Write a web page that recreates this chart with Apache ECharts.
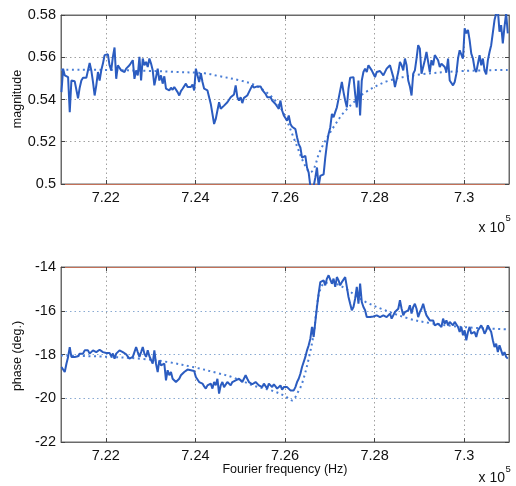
<!DOCTYPE html>
<html><head><meta charset="utf-8">
<script src="https://cdn.jsdelivr.net/npm/echarts@6/dist/echarts.min.js"></script>
<style>html,body{margin:0;padding:0;background:#fff}#c{width:516px;height:486px}</style>
</head><body><div id="c"></div>
<script>
// frequency axis in units of 1e5 Hz; samples evenly spaced
const freqStart = 7.2101;
const freqStep = 0.00037037;
const xTicks = [7.22, 7.24, 7.26, 7.28, 7.30];

const magnitude = [
0.5435,0.5546,0.5514,0.5510,0.5506,0.5340,0.5490,0.5483,0.5486,0.5483,
0.5406,0.5456,0.5490,0.5503,0.5498,0.5503,0.5506,0.5573,0.5538,0.5483,
0.5419,0.5467,0.5530,0.5490,0.5538,0.5570,0.5610,0.5617,0.5614,0.5562,
0.5538,0.5602,0.5646,0.5498,0.5562,0.5570,0.5538,0.5546,0.5530,0.5546,
0.5538,0.5562,0.5554,0.5586,0.5498,0.5538,0.5514,0.5602,0.5490,0.5594,
0.5562,0.5578,0.5554,0.5594,0.5570,0.5538,0.5467,0.5506,0.5546,0.5490,
0.5514,0.5475,0.5510,0.5451,0.5459,0.5443,0.5456,0.5446,0.5459,0.5451,
0.5435,0.5419,0.5440,0.5451,0.5456,0.5475,0.5459,0.5467,0.5459,0.5471,
0.5443,0.5546,0.5541,0.5483,0.5525,0.5483,0.5451,0.5451,0.5443,0.5411,
0.5379,0.5332,0.5284,0.5308,0.5348,0.5387,0.5356,0.5363,0.5371,0.5379,
0.5387,0.5395,0.5411,0.5403,0.5424,0.5467,0.5411,0.5395,0.5411,0.5383,
0.5408,0.5403,0.5419,0.5435,0.5427,0.5467,0.5456,
0.5459,0.5462,0.5456,0.5462,0.5446,0.5440,0.5427,0.5411,0.5419,0.5411,
0.5395,0.5398,0.5379,0.5367,0.5356,0.5395,0.5348,0.5324,0.5316,0.5300,
0.5324,0.5284,0.5271,0.5276,0.5260,0.5221,0.5189,0.5173,0.5125,0.5117,
0.5133,0.5078,0.5054,0.4990,0.4986,0.4990,0.5030,0.5078,0.4990,0.5038,
0.5046,0.5046,0.5125,0.5189,0.5237,0.5268,0.5332,0.5316,0.5340,0.5363,
0.5403,0.5443,0.5483,0.5435,0.5395,0.5363,0.5451,0.5503,0.5510,0.5506,
0.5427,0.5363,0.5490,0.5324,0.5490,0.5530,0.5546,0.5530,0.5562,0.5562,
0.5538,0.5522,0.5506,0.5530,0.5538,0.5535,0.5538,0.5514,0.5522,0.5546,
0.5554,0.5562,0.5570,0.5506,0.5459,0.5456,0.5530,0.5578,0.5562,0.5538,
0.5594,0.5562,0.5490,0.5462,0.5419,0.5522,0.5538,0.5594,0.5657,0.5641,
0.5522,0.5530,0.5586,0.5625,0.5578,0.5530,0.5586,0.5562,0.5610,0.5617,
0.5586,0.5554,0.5570,0.5578,0.5554,0.5530,0.5594,0.5490,0.5483,0.5467,
0.5483,0.5522,0.5594,0.5633,0.5641,0.5594,0.5737,0.5713,0.5729,0.5681,
0.5617,0.5594,0.5546,0.5530,0.5570,0.5610,0.5562,0.5594,0.5538,0.5519,
0.5586,0.5625,0.5657,0.5649,0.5776,0.5808,0.5824,0.5721,0.5752,0.5665,
0.5744,0.5808,0.5713
];

const phase = [
-18.57,-18.65,-18.80,-18.42,-18.11,-17.66,-18.11,-18.19,-18.11,-18.04,
-18.08,-17.96,-17.89,-17.96,-17.81,-17.89,-17.81,-17.96,-17.89,-17.81,
-17.81,-17.89,-17.81,-17.78,-17.81,-17.89,-17.96,-17.93,-17.89,-17.93,
-18.08,-17.96,-18.19,-17.96,-17.89,-17.81,-17.73,-17.89,-17.96,-17.99,
-18.04,-18.19,-18.27,-18.11,-18.19,-17.66,-17.89,-18.11,-17.89,-17.66,
-17.96,-18.11,-17.81,-18.08,-18.11,-18.42,-17.81,-18.42,-18.80,-18.27,
-18.50,-18.57,-18.42,-19.18,-18.72,-18.95,-18.80,-19.11,-19.03,-19.26,
-19.18,-19.11,-18.95,-18.88,-18.80,-18.88,-18.69,-18.75,-18.72,-18.80,
-18.75,-19.03,-19.11,-19.26,-19.18,-19.33,-19.46,-19.56,-19.41,-19.49,
-19.33,-19.56,-19.26,-19.41,-19.11,-19.79,-19.41,-19.26,-19.49,-19.46,
-19.26,-19.33,-19.41,-19.26,-19.33,-19.18,-19.26,-19.11,-19.03,-19.26,
-19.21,-18.95,-19.11,-19.26,-19.18,-19.36,-19.30,
-19.26,-19.33,-19.41,-19.33,-19.49,-19.33,-19.41,-19.56,-19.33,-19.41,
-19.49,-19.36,-19.46,-19.56,-19.49,-19.41,-19.61,-19.49,-19.56,-19.49,
-19.41,-19.64,-19.56,-19.64,-19.49,-19.26,-19.11,-18.88,-18.57,-18.50,
-18.11,-17.81,-17.58,-17.28,-16.74,-17.20,-16.51,-15.83,-15.22,-14.69,
-14.76,-14.61,-14.84,-14.53,-14.38,-14.46,-14.76,-14.53,-14.91,-14.46,
-14.61,-14.84,-14.69,-14.76,-14.46,-14.91,-15.37,-15.68,-15.98,-15.83,
-15.45,-14.91,-15.68,-14.76,-15.60,-15.83,-15.98,-16.29,-16.21,-16.29,
-16.21,-16.26,-16.29,-16.21,-16.21,-16.29,-16.21,-16.21,-16.21,-16.29,
-16.21,-16.13,-16.36,-16.29,-16.06,-16.13,-15.91,-15.52,-15.91,-16.21,
-16.06,-16.13,-15.98,-15.75,-16.13,-15.83,-15.68,-15.91,-16.29,-16.06,
-15.91,-15.68,-15.98,-16.21,-16.29,-16.44,-16.51,-16.44,-16.67,-16.74,
-16.59,-16.51,-16.74,-16.36,-16.59,-16.44,-16.67,-16.51,-16.44,-16.67,
-16.51,-16.59,-16.74,-16.97,-16.74,-17.12,-16.90,-17.35,-16.97,-16.74,
-17.05,-17.12,-16.97,-17.20,-16.90,-16.82,-16.67,-16.82,-17.05,-16.90,
-16.67,-16.74,-16.97,-17.35,-17.66,-17.51,-17.89,-17.58,-17.81,-18.04,
-17.89,-18.11,-18.19
];

// fitted model curves (dotted)
const magFitFreq = [7.210,7.220,7.230,7.235,7.2421,7.245,7.250,7.2532,7.256,7.258,7.2598,7.2621,7.2643,7.2657,7.2666,7.2676,7.2691,7.2710,7.2730,7.2755,7.2780,7.2830,7.2900,7.3000,7.3100];
const magFit     = [0.5541,0.5540,0.5535,0.5531,0.5524,0.5512,0.5490,0.5469,0.5432,0.5390,0.5330,0.5210,0.5095,0.5055,0.5080,0.5145,0.5208,0.5275,0.5335,0.5390,0.5435,0.5488,0.5518,0.5535,0.5540];

const phaseFitFreq = [7.210,7.220,7.228,7.234,7.240,7.245,7.2484,7.2534,7.2571,7.2600,7.2616,7.2628,7.2638,7.2652,7.2664,7.2671,7.2678,7.2690,7.2710,7.2740,7.2760,7.2780,7.2820,7.2875,7.2920,7.3000,7.3100];
const phaseFit     = [-18.05,-18.10,-18.20,-18.35,-18.60,-18.85,-19.05,-19.45,-19.65,-19.90,-20.10,-19.75,-19.33,-18.27,-17.05,-15.83,-15.07,-14.72,-14.75,-15.05,-15.35,-15.60,-15.95,-16.35,-16.55,-16.75,-16.85];

const freqs = magnitude.map((_, i) => freqStart + i * freqStep);
const magPairs = magnitude.map((v, i) => [freqs[i], v]);
const phasePairs = phase.map((v, i) => [freqs[i], v]);
const magFitPairs = magFit.map((v, i) => [magFitFreq[i], v]);
const phaseFitPairs = phaseFit.map((v, i) => [phaseFitFreq[i], v]);

const FONT = 'Liberation Sans, Arial, Helvetica, sans-serif';
const frameColor = '#6a6a6a';
const redEdge = '#c27058';
const fmtX = v => String(+(+v).toFixed(2));

function xAxisMain(gi, showLabels, lineColor) {
  return {
    gridIndex: gi, type: 'value', min: 7.21, max: 7.31, position: 'bottom',
    axisLine: { show: true, onZero: false, lineStyle: { color: lineColor, width: 1 } },
    axisTick: { show: true, inside: true, length: 4, customValues: xTicks, lineStyle: { color: '#444' } },
    axisLabel: { show: showLabels, customValues: xTicks, formatter: fmtX, fontSize: 14.5, fontFamily: FONT, color: '#111', margin: 6 },
    splitLine: { show: true, lineStyle: { type: [1.5, 3], color: '#a0a0a0', width: 1 } }
  };
}
function xAxisTop(gi, lineColor) {
  return {
    gridIndex: gi, type: 'value', min: 7.21, max: 7.31, position: 'top',
    axisLine: { show: true, onZero: false, lineStyle: { color: lineColor, width: 1 } },
    axisTick: { show: true, inside: true, length: 4, customValues: xTicks, lineStyle: { color: '#444' } },
    axisLabel: { show: false, customValues: xTicks },
    splitLine: { show: false }
  };
}

const option = {
  animation: false,
  backgroundColor: '#fff',
  grid: [
    { left: 61, top: 15, width: 448, height: 169, show: true, borderColor: frameColor, borderWidth: 1, containLabel: false },
    { left: 61, top: 267, width: 448, height: 175, show: true, borderColor: frameColor, borderWidth: 1, containLabel: false }
  ],
  xAxis: [
    xAxisMain(0, true, redEdge),
    xAxisMain(1, true, frameColor),
    xAxisTop(0, frameColor),
    xAxisTop(1, redEdge)
  ],
  yAxis: [
    { gridIndex: 0, type: 'value', min: 0.5, max: 0.58, interval: 0.02,
      axisLine: { show: true, onZero: false, lineStyle: { color: frameColor } },
      axisTick: { show: true, inside: true, length: 4, lineStyle: { color: '#444' } },
      axisLabel: { fontSize: 14.5, fontFamily: FONT, color: '#111', margin: 5 },
      splitLine: { show: true, lineStyle: { type: [1.5, 3], color: '#a0a0a0' } } },
    { gridIndex: 1, type: 'value', min: -22, max: -14, interval: 2,
      axisLine: { show: true, onZero: false, lineStyle: { color: frameColor } },
      axisTick: { show: true, inside: true, length: 4, lineStyle: { color: '#444' } },
      axisLabel: { fontSize: 14.5, fontFamily: FONT, color: '#111', margin: 5 },
      splitLine: { show: true, lineStyle: { type: [1.5, 3], color: '#8aaad2' } } },
    { gridIndex: 0, type: 'value', min: 0.5, max: 0.58, interval: 0.02, position: 'right',
      axisLine: { show: true, onZero: false, lineStyle: { color: frameColor } },
      axisTick: { show: true, inside: true, length: 4, lineStyle: { color: '#444' } },
      axisLabel: { show: false }, splitLine: { show: false } },
    { gridIndex: 1, type: 'value', min: -22, max: -14, interval: 2, position: 'right',
      axisLine: { show: true, onZero: false, lineStyle: { color: frameColor } },
      axisTick: { show: true, inside: true, length: 4, lineStyle: { color: '#444' } },
      axisLabel: { show: false }, splitLine: { show: false } }
  ],
  series: [
    { type: 'line', xAxisIndex: 0, yAxisIndex: 0, data: magFitPairs, showSymbol: false, smooth: 0.35, clip: true,
      lineStyle: { color: '#4a7ed6', width: 2, type: [2, 3.5] }, z: 2 },
    { type: 'line', xAxisIndex: 0, yAxisIndex: 0, data: magPairs, showSymbol: false, clip: true,
      lineStyle: { color: '#2b5cc0', width: 2 }, z: 3 },
    { type: 'line', xAxisIndex: 1, yAxisIndex: 1, data: phaseFitPairs, showSymbol: false, smooth: 0.35, clip: true,
      lineStyle: { color: '#4a7ed6', width: 2, type: [2, 3.5] }, z: 2 },
    { type: 'line', xAxisIndex: 1, yAxisIndex: 1, data: phasePairs, showSymbol: false, clip: true,
      lineStyle: { color: '#2b5cc0', width: 2 }, z: 3 }
  ],
  graphic: [
    { type: 'text', x: 18, y: 99, rotation: Math.PI / 2,
      style: { text: 'magnitude', font: '12.5px ' + FONT, fill: '#111', align: 'center', verticalAlign: 'middle' } },
    { type: 'text', x: 18, y: 356, rotation: Math.PI / 2,
      style: { text: 'phase (deg.)', font: '12.5px ' + FONT, fill: '#111', align: 'center', verticalAlign: 'middle' } },
    { type: 'text', x: 285, y: 470,
      style: { text: 'Fourier frequency (Hz)', font: '12.5px ' + FONT, fill: '#111', align: 'center', verticalAlign: 'middle' } },
    { type: 'text', x: 505, y: 228,
      style: { text: 'x 10', font: '14px ' + FONT, fill: '#111', align: 'right', verticalAlign: 'middle' } },
    { type: 'text', x: 505.5, y: 218.5,
      style: { text: '5', font: '9.5px ' + FONT, fill: '#111', align: 'left', verticalAlign: 'middle' } },
    { type: 'text', x: 505, y: 478.5,
      style: { text: 'x 10', font: '14px ' + FONT, fill: '#111', align: 'right', verticalAlign: 'middle' } },
    { type: 'text', x: 505.5, y: 469.5,
      style: { text: '5', font: '9.5px ' + FONT, fill: '#111', align: 'left', verticalAlign: 'middle' } }
  ]
};

const chart = echarts.init(document.getElementById('c'), null, { renderer: 'canvas' });
chart.setOption(option);
</script>
</body></html>
